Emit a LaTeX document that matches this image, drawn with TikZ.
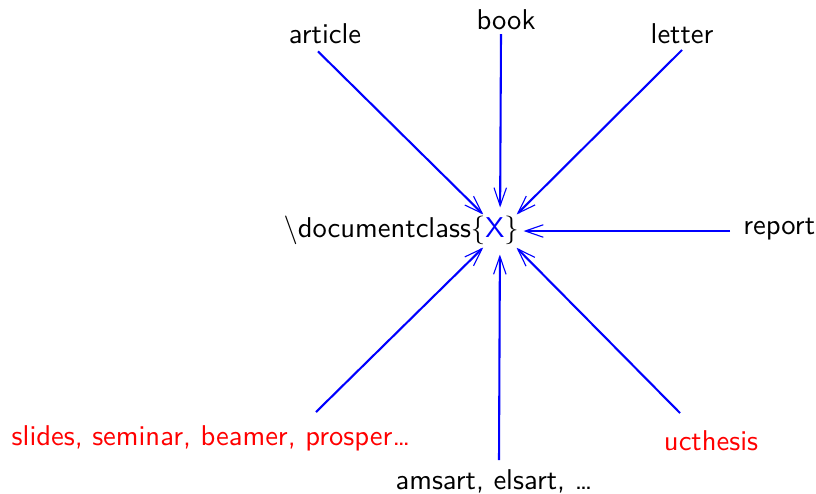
\documentclass[tikz,border=0pt]{standalone}
\usetikzlibrary{arrows.meta}
\renewcommand{\familydefault}{\sfdefault}
\begin{document}
\begin{tikzpicture}[x=0.36pt,y=-0.36pt,
  lbl/.style={inner sep=1pt, font=\sffamily\fontsize{10.3}{12}\selectfont},
  redlbl/.style={lbl, text=red},
  conn/.style={blue, line width=0.75pt, -{Straight Barb[length=6.5pt,width=4.5pt,line width=0.4pt]}}]
\useasboundingbox (0,0) rectangle (816,493);
\node[lbl, anchor=east] (dc) at (522,230) {\textbackslash documentclass\{\textcolor{blue}{X}\}};
\node[circle, minimum size=46*0.36pt, inner sep=0pt] (hub) at (500,231) {};
\node[lbl] (article) at (325,34) {article};
\node[lbl] (book) at (506,20) {book};
\node[lbl] (letter) at (682,34) {letter};
\node[lbl, anchor=west] (report) at (740,229) {report};
\node[redlbl] (slides) at (211,438) {slides, seminar, beamer, prosper\dots};
\node[lbl] (amsart) at (494,481) {amsart, elsart, \dots};
\node[redlbl] (ucthesis) at (711,441) {ucthesis};
\draw[conn] (article.south) ++(-7,4) coordinate (a1) -- (hub);
\draw[conn] (501,34) coordinate (b1) -- (hub);
\draw[conn] (682,50) coordinate (l1) -- (hub);
\draw[conn] (report.west) ++(-10,2) coordinate (r1) -- (hub);
\draw[conn] (316,412) coordinate (s1) -- (hub);
\draw[conn] (499,460) coordinate (m1) -- (hub);
\draw[conn] (680,413) coordinate (u1) -- (hub);
\end{tikzpicture}
\end{document}
